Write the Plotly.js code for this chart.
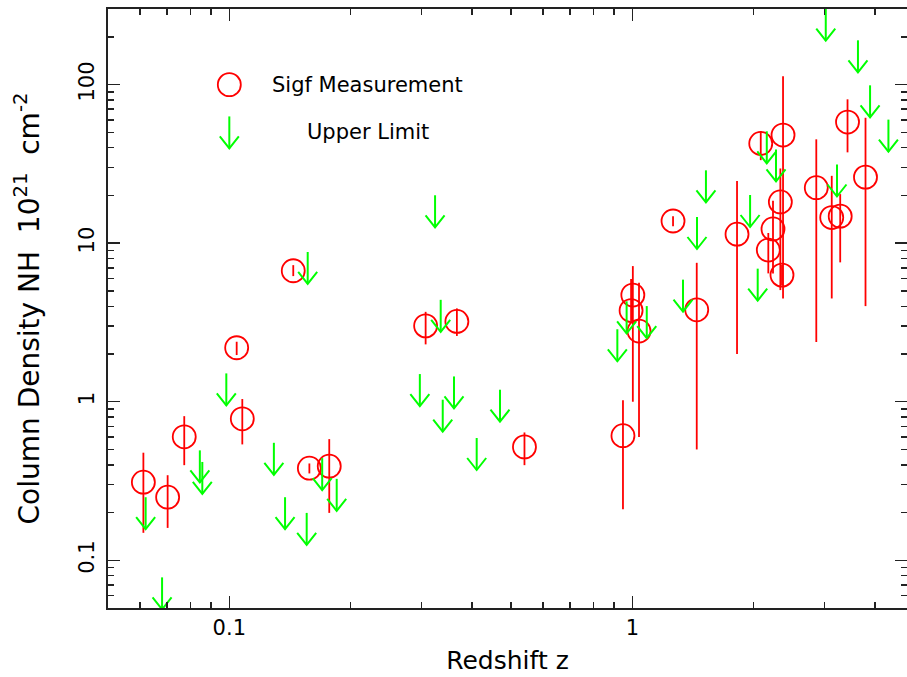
<!DOCTYPE html>
<html>
<head>
<meta charset="utf-8">
<script src="https://cdn.plot.ly/plotly-3.0.1.min.js"></script>
<style>html,body{margin:0;padding:0;background:#fff;}#chart{width:907px;height:677px;}</style>
</head>
<body>
<div id="chart"></div>
<script>
// Significant measurements: redshift, NH (1e21 cm^-2), lower and upper error-bar ends
const sigZ  = [0.0612,0.0703,0.0773,0.1077,0.158,0.177,0.1441,0.1043,0.307,0.367,0.540,1.262,1.819,1.003,0.993,1.039,0.948,1.445,2.083,2.366,2.33,2.234,2.175,2.352,2.861,3.125,3.28,3.42,3.79];
const sigNH = [0.311,0.250,0.601,0.780,0.381,0.392,6.70,2.19,3.01,3.21,0.519,13.8,11.4,4.71,3.76,2.79,0.611,3.80,42.6,48.1,18.2,12.3,9.05,6.29,22.4,14.5,14.8,58.1,26.1];
const sigLo = [0.149,0.160,0.398,0.538,0.353,0.199,6.20,1.97,2.30,2.60,0.398,12.8,2.0,1.0,3.22,0.60,0.210,0.50,33.4,4.48,5.06,6.45,6.45,5.4,2.38,4.48,7.57,37.4,4.01];
const sigHi = [0.477,0.344,0.811,1.04,0.408,0.581,7.27,2.39,3.69,3.88,0.640,14.8,24.7,7.17,5.94,5.63,1.02,7.52,51.0,113,29.6,18.5,11.6,7.3,45.2,26.6,20.4,80.8,61.8];

// Upper limits: redshift, NH upper limit (1e21 cm^-2)
const ulZ  = [0.0620,0.0681,0.0845,0.0857,0.0983,0.129,0.1375,0.1556,0.1565,0.170,0.1847,0.324,0.3346,0.297,0.361,0.3385,0.4695,0.411,1.523,1.447,1.336,0.968,1.086,0.918,3.02,3.63,3.89,4.32,2.156,2.273,3.22,1.96,2.047];
const ulNH = [0.157,0.049,0.310,0.262,0.948,0.346,0.157,0.125,5.53,0.277,0.205,12.6,2.76,0.939,0.907,0.647,0.748,0.371,18.1,9.19,3.70,2.70,2.52,1.80,189.5,119.6,62.2,37.8,31.9,24.5,19.7,12.65,4.34];

// Legend keys and labels
const legendLabels = ['Sigf Measurement', 'Upper Limit'];
const legendKeyZ = [0.1, 0.1];
const legendKeyNH = [100, 39.6];

const xTitle = 'Redshift z';
const yTitle = 'Column Density NH\u00a0 10<sup>21</sup>\u00a0 cm<sup>-2</sup>';

// arrow geometry (pixel sizes converted via axis scale: 403 px/decade in x, 158.5 px/decade in y)
const PXX = 403, PXY = 158.5;
const kShaft = Math.pow(10, 32 / PXY);
const kHead = Math.pow(10, 12 / PXY);
const kHalf = Math.pow(10, 9.5 / PXX);

function arrowPath(zs, vs) {
  const X = [], Y = [];
  for (let i = 0; i < zs.length; i++) {
    const z = zs[i], v = vs[i];
    X.push(z, z, null, z / kHalf, z, z * kHalf, null);
    Y.push(v, v * kShaft, null, v * kHead, v, v * kHead, null);
  }
  return {X, Y};
}

const ul = arrowPath(ulZ, ulNH);
const lgArrow = arrowPath([legendKeyZ[1]], [legendKeyNH[1]]);

const RED = '#ff0000', GREEN = '#00ff00', AX = '#222222';
const FONT = 'DejaVu Sans, Liberation Sans, sans-serif';

const traces = [
  {
    x: sigZ, y: sigNH, type: 'scatter', mode: 'markers',
    marker: {symbol: 'circle-open', size: 23, color: RED, line: {color: RED, width: 1.8}},
    error_y: {type: 'data', symmetric: false,
      array: sigHi.map((h, i) => h - sigNH[i]),
      arrayminus: sigLo.map((l, i) => sigNH[i] - l),
      color: RED, thickness: 1.8, width: 0},
    hoverinfo: 'x+y', showlegend: false
  },
  {
    x: ul.X, y: ul.Y, type: 'scatter', mode: 'lines',
    line: {color: GREEN, width: 2}, hoverinfo: 'skip', showlegend: false
  },
  {
    x: [legendKeyZ[0]], y: [legendKeyNH[0]], type: 'scatter', mode: 'markers',
    marker: {symbol: 'circle-open', size: 23, color: RED, line: {color: RED, width: 1.8}},
    hoverinfo: 'skip', showlegend: false, cliponaxis: false
  },
  {
    x: lgArrow.X, y: lgArrow.Y, type: 'scatter', mode: 'lines',
    line: {color: GREEN, width: 2}, hoverinfo: 'skip', showlegend: false
  }
];

const W = 907, H = 677, ML = 108, MR = 0, MT = 9, MB = 69;
const xLo = Math.log10(0.05);
const xHi = xLo + (W - ML - MR) / PXX;

const axisCommon = {
  type: 'log', showline: true, linecolor: AX, linewidth: 2, mirror: 'ticks',
  ticks: 'inside', ticklen: 12, tickwidth: 1.5, tickcolor: AX,
  dtick: 1, showgrid: false, zeroline: false,
  minor: {ticks: 'inside', ticklen: 6, tickwidth: 1.5, tickcolor: AX, dtick: 'D1', showgrid: false},
  tickfont: {family: FONT, size: 21, color: '#000'}
};

const layout = {
  width: W, height: H,
  margin: {l: ML, r: MR, t: MT, b: MB},
  paper_bgcolor: '#fff', plot_bgcolor: '#fff',
  font: {family: FONT, size: 21, color: '#000'},
  xaxis: Object.assign({}, axisCommon, {
    range: [xLo, xHi],
    title: {text: xTitle, font: {family: FONT, size: 25, color: '#000'}, standoff: 12}
  }),
  yaxis: Object.assign({}, axisCommon, {
    range: [Math.log10(0.05), Math.log10(300)],
    tickangle: -90,
    ticklabelstandoff: 4,
    title: {text: yTitle, font: {family: FONT, size: 28, color: '#000'}, standoff: 27}
  }),
  annotations: [
    {xref: 'paper', yref: 'paper', x: (270 - ML) / (W - ML - MR), y: (608 - 85) / (H - MT - MB),
     xanchor: 'left', yanchor: 'middle', text: legendLabels[0], showarrow: false,
     font: {family: FONT, size: 21, color: '#000'}},
    {xref: 'paper', yref: 'paper', x: (305 - ML) / (W - ML - MR), y: (608 - 132) / (H - MT - MB),
     xanchor: 'left', yanchor: 'middle', text: legendLabels[1], showarrow: false,
     font: {family: FONT, size: 21, color: '#000'}}
  ],
  showlegend: false
};

Plotly.newPlot('chart', traces, layout, {displayModeBar: false, staticPlot: true});
</script>
</body>
</html>
